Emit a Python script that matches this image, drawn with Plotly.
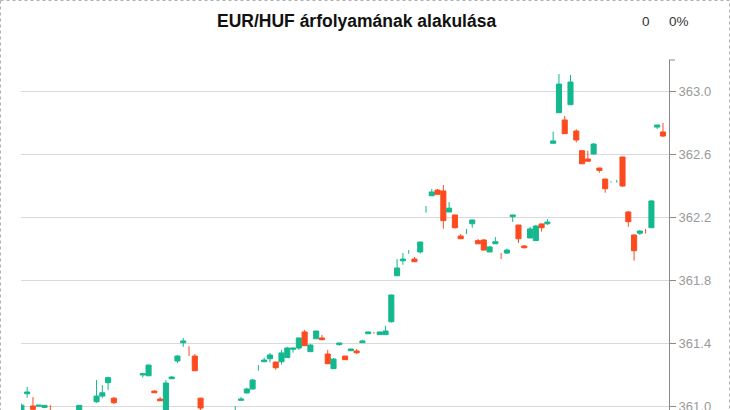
import plotly.graph_objects as go

# ---------------- data ----------------
idx = [0, 1, 2, 3, 4, 5, 10, 13, 14, 15, 16, 21, 22, 23, 24, 25, 26, 27, 28, 29,
       30, 31, 37, 38, 39, 40, 41, 42, 43, 44, 45, 46, 47, 48, 49, 50, 51, 52, 53, 54,
       55, 56, 57, 58, 59, 60, 61, 62, 63, 64, 65, 66, 67, 68, 69, 70, 71, 72, 73, 74,
       75, 76, 77, 78, 79, 80, 81, 82, 83, 84, 85, 86, 87, 88, 89, 90, 91, 92, 93, 94,
       95, 96, 97, 98, 99, 100, 101, 102, 103, 104, 105, 106, 107, 108, 109, 110, 111]

opens = [360.950, 361.078, 361.000, 360.999, 360.991, 360.960, 360.960, 361.027, 361.063, 361.148,
         361.050, 361.197, 361.192, 361.095, 361.044, 360.900, 361.173, 361.286, 361.402, 361.351,
         361.317, 361.050, 360.979, 361.036, 361.083, 361.108, 361.239, 361.281, 361.300, 361.279,
         361.281, 361.307, 361.360, 361.368, 361.470, 361.345, 361.427, 361.432, 361.330, 361.237,
         361.390, 361.317, 361.351, 361.349, 361.402, 361.459, 361.466, 361.453, 361.453, 361.535,
         361.827, 361.922, 361.977, 361.933, 361.978, 362.249, 362.335, 362.371, 362.365, 362.232,
         362.213, 362.079, 362.107, 362.157, 362.050, 362.054, 361.978, 362.030, 361.951, 361.971,
         362.202, 362.149, 362.016, 362.067, 362.050, 362.156, 362.157, 362.668, 362.862, 362.816,
         362.913, 362.746, 362.621, 362.568, 362.600, 362.511, 362.441, 362.421, 362.426, 362.581,
         362.232, 362.086, 362.097, 362.110, 362.132, 362.771, 362.740]

highs = [361.015, 361.121, 361.057, 361.006, 361.006, 361.006, 361.007, 361.165, 361.133, 361.186,
         361.057, 361.211, 361.262, 361.100, 361.057, 361.165, 361.190, 361.324, 361.432, 361.380,
         361.330, 361.052, 361.000, 361.057, 361.116, 361.171, 361.260, 361.307, 361.337, 361.281,
         361.356, 361.375, 361.370, 361.434, 361.483, 361.394, 361.478, 361.451, 361.356, 361.305,
         361.401, 361.318, 361.363, 361.362, 361.420, 361.471, 361.470, 361.472, 361.508, 361.707,
         361.933, 361.971, 361.990, 361.946, 362.043, 362.270, 362.378, 362.378, 362.403, 362.295,
         362.214, 362.092, 362.124, 362.182, 362.060, 362.060, 362.016, 362.073, 361.971, 362.000,
         362.214, 362.150, 362.022, 362.137, 362.150, 362.158, 362.187, 362.742, 363.108, 362.841,
         363.102, 362.757, 362.625, 362.621, 362.670, 362.512, 362.442, 362.427, 362.435, 362.582,
         362.238, 362.087, 362.117, 362.124, 362.306, 362.785, 362.797]

lows = [360.940, 361.053, 360.975, 360.998, 360.990, 360.930, 360.950, 361.020, 361.050, 361.101,
        361.013, 361.180, 361.190, 361.083, 361.032, 360.890, 361.172, 361.273, 361.375, 361.317,
        361.222, 360.960, 360.960, 361.035, 361.080, 361.106, 361.224, 361.280, 361.276, 361.231,
        361.263, 361.305, 361.339, 361.356, 361.381, 361.343, 361.425, 361.420, 361.266, 361.235,
        361.383, 361.293, 361.350, 361.330, 361.401, 361.458, 361.459, 361.452, 361.452, 361.529,
        361.825, 361.897, 361.967, 361.915, 361.967, 362.227, 362.333, 362.343, 362.126, 362.230,
        362.126, 362.061, 362.092, 362.132, 362.029, 361.988, 361.977, 362.029, 361.933, 361.965,
        362.168, 362.035, 362.000, 362.066, 362.048, 362.107, 362.149, 362.667, 362.860, 362.728,
        362.911, 362.674, 362.536, 362.553, 362.598, 362.481, 362.354, 362.418, 362.418, 362.390,
        362.138, 361.923, 362.086, 362.094, 362.130, 362.759, 362.708]

closes = [361.005, 361.089, 360.979, 361.005, 361.004, 360.940, 361.004, 361.063, 361.084, 361.180,
          361.021, 361.205, 361.260, 361.084, 361.033, 361.146, 361.184, 361.317, 361.413, 361.349,
          361.224, 360.987, 360.981, 361.044, 361.108, 361.165, 361.241, 361.292, 361.324, 361.243,
          361.337, 361.368, 361.368, 361.432, 361.383, 361.387, 361.476, 361.421, 361.268, 361.298,
          361.400, 361.294, 361.362, 361.338, 361.413, 361.470, 361.464, 361.470, 361.476, 361.705,
          361.876, 361.933, 361.979, 361.916, 362.041, 362.251, 362.359, 362.344, 362.177, 362.256,
          362.132, 362.062, 362.109, 362.181, 362.030, 361.990, 362.010, 362.043, 361.949, 361.990,
          362.213, 362.062, 362.005, 362.124, 362.143, 362.132, 362.168, 362.683, 363.044, 362.729,
          363.057, 362.689, 362.538, 362.554, 362.663, 362.496, 362.380, 362.423, 362.428, 362.397,
          362.170, 361.986, 362.111, 362.108, 362.302, 362.784, 362.714]

y_ticks = [361.0, 361.4, 361.8, 362.2, 362.6, 363.0]
title_text = "EUR/HUF árfolyamának alakulása"
change_abs = "0"
change_pct = "0%"

# ---------------- style ----------------
GREEN = "#14b88f"
RED = "#fd4b20"
W, H = 730, 410
L, R, T, B = 21, 61, 60, 0
PW, PH = W - L - R, H - T - B


def px(x):
    return (x - L) / PW


def py(y):
    return (H - B - y) / PH


# split into bodied candles and body-less (wick only) ones
THIN = 0.003
body_i = [k for k in range(len(idx)) if abs(opens[k] - closes[k]) > THIN]
thin_i = [k for k in range(len(idx)) if abs(opens[k] - closes[k]) <= THIN]

fig = go.Figure()
fig.add_trace(go.Candlestick(
    x=[idx[k] for k in body_i],
    open=[opens[k] for k in body_i],
    high=[highs[k] for k in body_i],
    low=[lows[k] for k in body_i],
    close=[closes[k] for k in body_i],
    increasing=dict(line=dict(color=GREEN, width=1), fillcolor=GREEN),
    decreasing=dict(line=dict(color=RED, width=1), fillcolor=RED),
    whiskerwidth=0,
    showlegend=False,
    hoverinfo="skip",
))

for up, col in ((True, GREEN), (False, RED)):
    xs, ys = [], []
    for k in thin_i:
        if (closes[k] >= opens[k]) == up:
            xs += [idx[k], idx[k], None]
            ys += [lows[k], highs[k], None]
    fig.add_trace(go.Scatter(x=xs, y=ys, mode="lines",
                             line=dict(color=col, width=1),
                             showlegend=False, hoverinfo="skip"))

x0 = 21.4
step = 5.78
y_top = 363.0 + (91 - T) / 157.5
y_bot = 363.0 - (H - B - 91) / 157.5

fig.update_layout(
    width=W, height=H,
    margin=dict(l=L, r=R, t=T, b=B, pad=0, autoexpand=False),
    paper_bgcolor="white", plot_bgcolor="white",
    boxgap=0.12, boxgroupgap=0,
    showlegend=False,
    font=dict(family="Liberation Sans, Arial, sans-serif"),
    xaxis=dict(range=[(L - x0) / step, (W - R - x0) / step],
               visible=False, rangeslider=dict(visible=False),
               showgrid=False, zeroline=False, fixedrange=True),
    yaxis=dict(range=[y_bot, y_top], side="right",
               tickvals=y_ticks, tickformat=".1f",
               showline=True, linecolor="#8a8a8a", linewidth=1,
               ticks="outside", ticklen=6, tickcolor="#8a8a8a", tickwidth=1,
               tickfont=dict(size=13, color="#9a9a9a"),
               ticklabeloverflow="allow",
               showgrid=True, gridcolor="#d9d9d9", gridwidth=1,
               zeroline=False, fixedrange=True, automargin=False),
    annotations=[
        dict(text="<b>" + title_text + "</b>", xref="paper", yref="paper",
             x=px(356), y=py(21), xanchor="center", yanchor="middle",
             showarrow=False, font=dict(size=17.5, color="#111111")),
        dict(text=change_abs, xref="paper", yref="paper",
             x=px(646), y=py(21), xanchor="center", yanchor="middle",
             showarrow=False, font=dict(size=13.5, color="#333333")),
        dict(text=change_pct, xref="paper", yref="paper",
             x=px(679), y=py(21), xanchor="center", yanchor="middle",
             showarrow=False, font=dict(size=13.5, color="#333333")),
    ],
    shapes=[
        dict(type="rect", xref="paper", yref="paper",
             x0=px(0.5), x1=px(729.5), y0=py(0.5), y1=py(440),
             line=dict(color="#b0b0b0", width=1, dash="3px,3px"),
             fillcolor="rgba(0,0,0,0)", layer="above"),
        dict(type="line", xref="paper", yref="paper",
             x0=px(W - R), x1=px(W - R + 6), y0=py(T), y1=py(T),
             line=dict(color="#8a8a8a", width=1)),
    ],
)

fig.write_html(
    "out.html",
    config={"displayModeBar": False, "staticPlot": True},
    post_script="document.body.style.margin='0px';document.body.style.overflow='hidden';",
)
